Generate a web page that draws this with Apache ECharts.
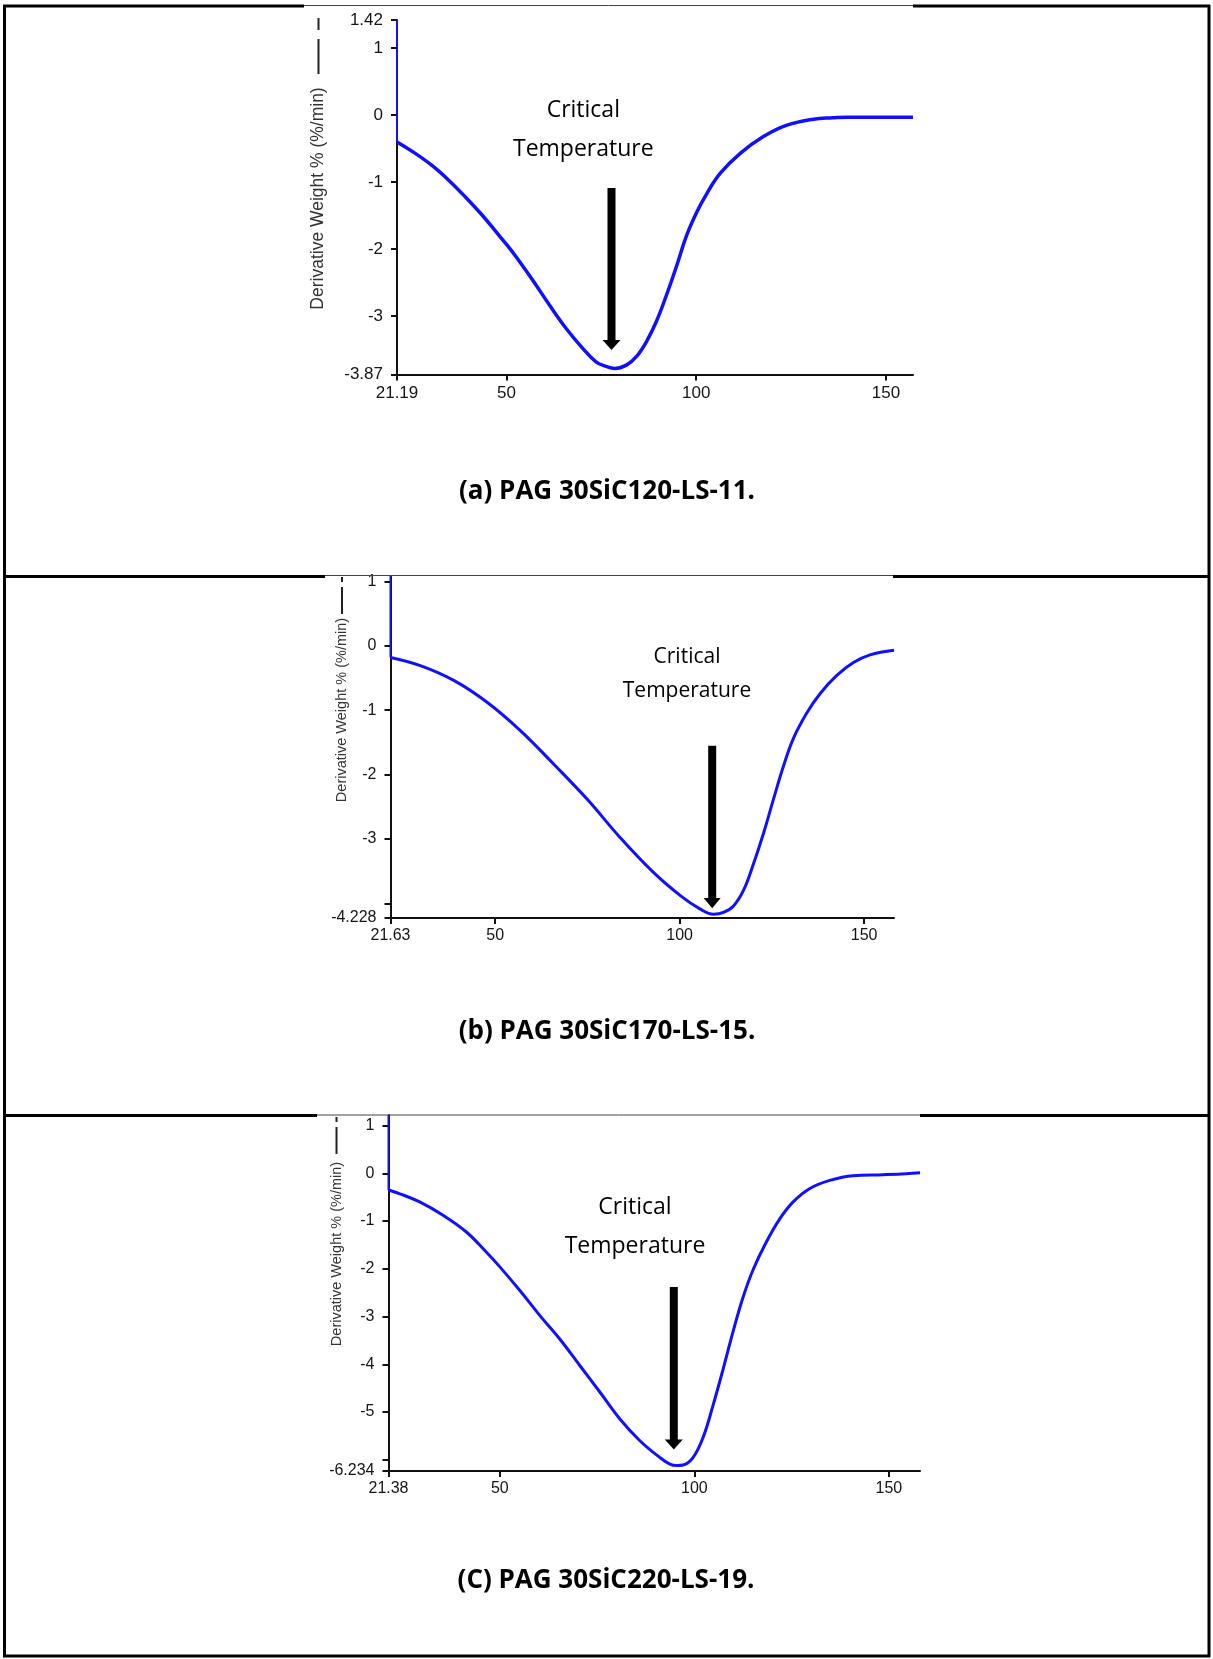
<!DOCTYPE html>
<html>
<head>
<meta charset="utf-8">
<script src="https://cdn.jsdelivr.net/npm/echarts@6/dist/echarts.min.js"></script>
<style>
html,body{margin:0;padding:0;background:#fff;}
#chart{width:1213px;height:1659px;}
</style>
</head>
<body>
<div id="chart"></div>
<script>
// ---------- DATA ----------
// Panel (a) PAG 30SiC120-LS-11
const tempA = [21.19, 26.0, 30.4, 34.8, 39.2, 43.6, 48.0, 50.2, 52.5, 56.9, 61.3, 65.7, 70.1, 73.6, 76.3, 78.5, 81.6, 84.3, 86.9, 89.5, 92.2, 94.9, 97.5, 100.2, 102.8, 106.3, 111.6, 117.7, 123.9, 130.9, 136.0, 140.0, 157.1];
const dwA   = [-0.40, -0.57, -0.75, -0.97, -1.22, -1.49, -1.79, -1.94, -2.11, -2.46, -2.83, -3.18, -3.48, -3.68, -3.75, -3.78, -3.73, -3.60, -3.38, -3.08, -2.68, -2.24, -1.79, -1.44, -1.17, -0.87, -0.57, -0.32, -0.15, -0.06, -0.04, -0.03, -0.03];
const spikeTempA = [21.19, 21.19];
const spikeDwA   = [1.42, -0.40];
const xTicksA = [21.19, 50, 100, 150];
const yTicksA = [1.42, 1, 0, -1, -2, -3, -3.87];
const yLabelsA = [1.42, 1, 0, -1, -2, -3, -3.87];

// Panel (b) PAG 30SiC170-LS-15
const tempB = [21.63, 29.9, 38.9, 47.9, 56.9, 65.9, 74.9, 83.9, 92.9, 100.2, 105.6, 109.2, 111.9, 114.6, 117.3, 120.0, 122.8, 125.5, 128.2, 130.9, 134.5, 138.1, 142.6, 147.1, 151.6, 158.1];
const dwB   = [-0.18, -0.31, -0.54, -0.88, -1.32, -1.84, -2.38, -2.98, -3.52, -3.88, -4.09, -4.17, -4.14, -4.04, -3.80, -3.39, -2.90, -2.37, -1.86, -1.43, -1.04, -0.74, -0.46, -0.26, -0.14, -0.07];
const spikeTempB = [21.63, 21.63];
const spikeDwB   = [1.085, -0.18];
const xTicksB = [21.63, 50, 100, 150];
const yTicksB = [1, 0, -1, -2, -3, -4, -4.228];
const yLabelsB = [1, 0, -1, -2, -3, -4.228];

// Panel (c) PAG 30SiC220-LS-19
const tempC = [21.38, 24.3, 29.4, 35.4, 41.4, 46.5, 50.0, 55.1, 60.3, 65.4, 70.6, 75.7, 80.8, 86.0, 91.1, 93.7, 95.5, 97.1, 99.7, 102.3, 104.8, 107.4, 110.0, 112.5, 115.1, 118.5, 122.0, 125.4, 129.7, 134.8, 140.8, 148.5, 154.5, 158.0];
const dwC   = [-0.35, -0.43, -0.60, -0.88, -1.23, -1.65, -1.96, -2.45, -2.98, -3.47, -4.03, -4.58, -5.14, -5.60, -5.95, -6.09, -6.12, -6.11, -5.95, -5.52, -4.86, -4.10, -3.30, -2.60, -2.02, -1.44, -0.95, -0.60, -0.32, -0.15, -0.05, -0.03, -0.01, 0.01];
const spikeTempC = [21.38, 21.38];
const spikeDwC   = [1.22, -0.35];
const xTicksC = [21.38, 50, 100, 150];
const yTicksC = [1, 0, -1, -2, -3, -4, -5, -6, -6.234];
const yLabelsC = [1, 0, -1, -2, -3, -4, -5, -6.234];

const xRangeA = [21.19, 157.1], yRangeA = [-3.87, 1.42];
const xRangeB = [21.63, 158.1], yRangeB = [-4.228, 1.085];
const xRangeC = [21.38, 158.0], yRangeC = [-6.234, 1.22];

const yTitle = 'Derivative Weight % (%/min)';
const annot1 = 'Critical';
const annot2 = 'Temperature';
const captions = ['(a) PAG 30SiC120-LS-11.', '(b) PAG 30SiC170-LS-15.', '(C) PAG 30SiC220-LS-19.'];

// ---------- STYLE / LAYOUT ----------
const axisFont = '"Liberation Sans", Arial, sans-serif';
const textFont = '"Open Sans", "Noto Sans", sans-serif';
const curveColor = '#1010ff';
const axisColor = '#111';

const pair = (xs, ys) => xs.map((x, i) => [x, ys[i]]);

function xAx(gi, range, ticks, fs) {
  return {
    type: 'value', gridIndex: gi, min: range[0], max: range[1],
    axisLine: { show: true, onZero: false, lineStyle: { color: axisColor, width: 2 } },
    axisTick: { show: true, customValues: ticks, length: 6, lineStyle: { color: axisColor, width: 2 } },
    axisLabel: { show: true, customValues: ticks, margin: 10, color: '#141414', fontSize: fs, fontFamily: axisFont },
    splitLine: { show: false }
  };
}
function yAx(gi, range, ticks, labels, fs) {
  return {
    type: 'value', gridIndex: gi, min: range[0], max: range[1],
    axisLine: { show: true, onZero: false, lineStyle: { color: axisColor, width: 2 } },
    axisTick: { show: true, customValues: ticks, length: 6, lineStyle: { color: axisColor, width: 2 } },
    axisLabel: { show: true, customValues: labels, margin: 14, color: '#141414', fontSize: fs, fontFamily: axisFont },
    splitLine: { show: false }
  };
}
function curve(i, data, w) {
  return { type: 'line', xAxisIndex: i, yAxisIndex: i, data: data, showSymbol: false, symbol: 'none',
    smooth: 0.4, clip: true, lineStyle: { color: curveColor, width: w }, z: 3, silent: true, animation: false };
}
function spike(i, data) {
  return { type: 'line', xAxisIndex: i, yAxisIndex: i, data: data, showSymbol: false, symbol: 'none',
    clip: true, lineStyle: { color: curveColor, width: 2 }, z: 3, silent: true, animation: false };
}

function hline(x1, x2, y, w, c) {
  return { type: 'line', shape: { x1: x1, y1: y, x2: x2, y2: y }, style: { stroke: c || '#000', lineWidth: w }, silent: true, z: 1 };
}
function vline(x, y1, y2, w, c) {
  return { type: 'line', shape: { x1: x, y1: y1, x2: x, y2: y2 }, style: { stroke: c || '#000', lineWidth: w }, silent: true, z: 20 };
}
function arrow(x, top, headTop, tip, sw, hw) {
  return [
    { type: 'rect', shape: { x: x - sw / 2, y: top, width: sw, height: headTop - top + 1 }, style: { fill: '#000' }, silent: true, z: 20 },
    { type: 'polygon', shape: { points: [[x - hw / 2, headTop], [x + hw / 2, headTop], [x, tip]] }, style: { fill: '#000' }, silent: true, z: 20 }
  ];
}
function label(txt, x, y, fs, bold) {
  return { type: 'text', x: x, y: y, silent: true, z: 20,
    style: { text: txt, fill: '#000', font: (bold ? 'bold ' : '') + fs + 'px ' + textFont, textAlign: 'center', textVerticalAlign: 'middle' } };
}
function yTitleEl(x, y, fs) {
  return { type: 'text', x: x, y: y, rotation: Math.PI / 2, silent: true, z: 20,
    style: { text: yTitle, fill: '#333', font: fs + 'px ' + axisFont, textAlign: 'center', textVerticalAlign: 'middle' } };
}

const graphics = [].concat(
  // table borders
  [vline(4.5, 5, 1657, 3), vline(1209, 5, 1657, 3)],
  [hline(3, 304, 6, 3), hline(304, 913, 5.5, 1, '#444'), hline(913, 1210, 6, 3)],
  [hline(3, 325, 576.5, 3), hline(325, 893, 575.5, 1, '#444'), hline(893, 1210, 576.5, 3)],
  [hline(3, 317, 1115.5, 3), hline(317, 920, 1115, 1, '#444'), hline(920, 1210, 1115.5, 3)],
  [hline(3, 1210, 1656, 3)],
  // y-axis titles with legend line glyph
  [yTitleEl(318.5, 198.5, 17.5), vline(318.5, 39, 74, 2, '#222'), vline(318.5, 18, 30, 2, '#222')],
  [yTitleEl(342, 710, 14.5), vline(342, 587, 614, 2, '#222'), vline(342, 577, 582, 2, '#222')],
  [yTitleEl(336.5, 1254, 14.5), vline(336.5, 1127, 1154, 2, '#222'), vline(336.5, 1117, 1122, 2, '#222')],
  // annotations
  [label(annot1, 583.3, 110.7, 23), label(annot2, 583.3, 149.3, 23)],
  arrow(611.5, 188, 340, 350, 8, 18),
  [label(annot1, 687, 657.3, 21), label(annot2, 687, 690.7, 21)],
  arrow(712.2, 745.7, 898, 908.3, 8, 17),
  [label(annot1, 635, 1207.7, 23), label(annot2, 635, 1246.3, 23)],
  arrow(673.8, 1287, 1439.5, 1449.5, 8, 18),
  // captions
  [label(captions[0], 607, 492, 26, true), label(captions[1], 607, 1032, 26, true), label(captions[2], 606, 1581, 26, true)]
);

const option = {
  animation: false,
  backgroundColor: '#fff',
  textStyle: { fontFamily: axisFont },
  grid: [
    { left: 397, top: 20, width: 516, height: 354.5, containLabel: false, outerBoundsMode: 'none' },
    { left: 390.5, top: 576, width: 503.5, height: 342, containLabel: false, outerBoundsMode: 'none' },
    { left: 388.5, top: 1115, width: 531.5, height: 356, containLabel: false, outerBoundsMode: 'none' }
  ],
  xAxis: [xAx(0, xRangeA, xTicksA, 17), xAx(1, xRangeB, xTicksB, 16), xAx(2, xRangeC, xTicksC, 16)],
  yAxis: [yAx(0, yRangeA, yTicksA, yLabelsA, 17), yAx(1, yRangeB, yTicksB, yLabelsB, 16), yAx(2, yRangeC, yTicksC, yLabelsC, 16)],
  series: [
    spike(0, pair(spikeTempA, spikeDwA)), curve(0, pair(tempA, dwA), 3.5),
    spike(1, pair(spikeTempB, spikeDwB)), curve(1, pair(tempB, dwB), 3),
    spike(2, pair(spikeTempC, spikeDwC)), curve(2, pair(tempC, dwC), 3)
  ],
  graphic: graphics
};

const chart = echarts.init(document.getElementById('chart'), null, { renderer: 'canvas' });
chart.setOption(option);
</script>
</body>
</html>
